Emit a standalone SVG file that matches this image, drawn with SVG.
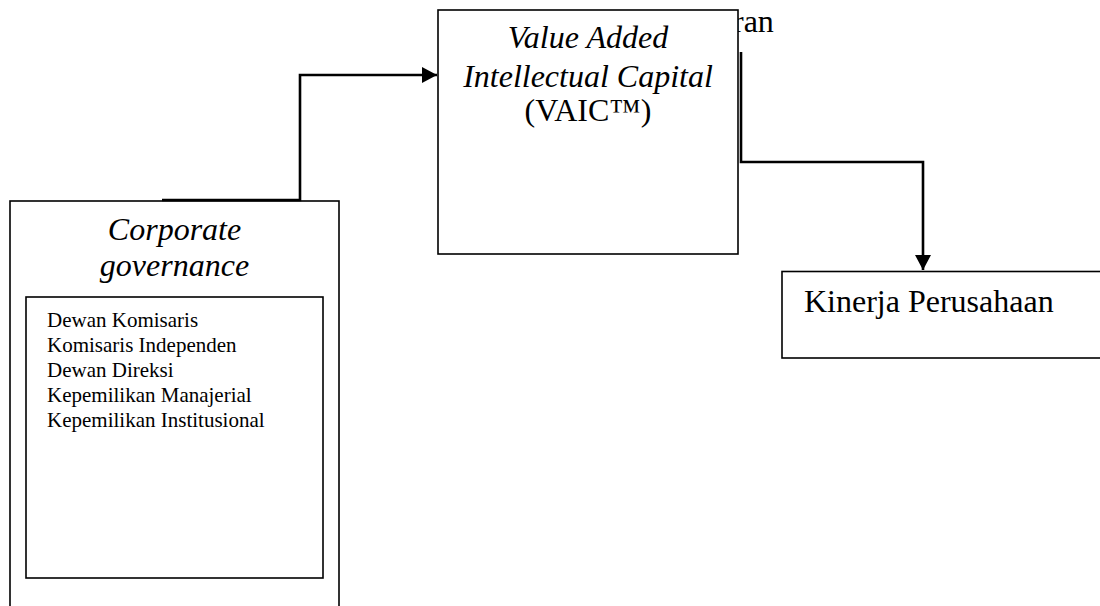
<svg xmlns="http://www.w3.org/2000/svg" width="1100" height="606" viewBox="0 0 1100 606">
  <style>
    .box { fill: #ffffff; stroke: #000000; stroke-width: 1.6; }
    .conn { fill: none; stroke: #000000; stroke-width: 2.6; }
    .t { font-family: "Liberation Serif", "Times New Roman", serif; fill: #000000; }
    .big { font-size: 32px; }
    .ital { font-style: italic; }
    .small { font-size: 21px; }
  </style>
  <defs>
    <marker id="arrow" markerUnits="userSpaceOnUse" markerWidth="15" markerHeight="16" viewBox="0 0 15 16" refX="15" refY="8" orient="auto">
      <path d="M0,0 L15,8 L0,16 z" fill="#000000"/>
    </marker>
  </defs>
  <rect width="1100" height="606" fill="#ffffff"/>

  <text class="t big" x="733" y="32">ran</text>

  <g id="vaic">
    <rect class="box" x="438" y="10" width="300" height="244"/>
    <text class="t big ital" x="588" y="48" text-anchor="middle">Value Added</text>
    <text class="t big ital" x="588" y="87" text-anchor="middle">Intellectual Capital</text>
    <text class="t big" x="588" y="121" text-anchor="middle">(VAIC™)</text>
  </g>

  <g id="corporate-governance">
    <rect class="box" x="10" y="201" width="329" height="420"/>
    <text class="t big ital" x="174.5" y="240" text-anchor="middle">Corporate</text>
    <text class="t big ital" x="174.5" y="276" text-anchor="middle">governance</text>
    <rect class="box" x="26" y="297" width="297" height="281"/>
    <text class="t small" x="47" y="327">Dewan Komisaris</text>
    <text class="t small" x="47" y="352">Komisaris Independen</text>
    <text class="t small" x="47" y="376.5">Dewan Direksi</text>
    <text class="t small" x="47" y="401.5">Kepemilikan Manajerial</text>
    <text class="t small" x="47" y="426.5">Kepemilikan Institusional</text>
  </g>

  <g id="kinerja">
    <rect class="box" x="782" y="271.5" width="330" height="86.5"/>
    <text class="t big" x="804" y="312">Kinerja Perusahaan</text>
  </g>

  <g id="connectors">
    <path class="conn" d="M162,200 H300 V75 H437" marker-end="url(#arrow)"/>
    <path class="conn" d="M741,52 V162 H923 V270" marker-end="url(#arrow)"/>
  </g>
</svg>
